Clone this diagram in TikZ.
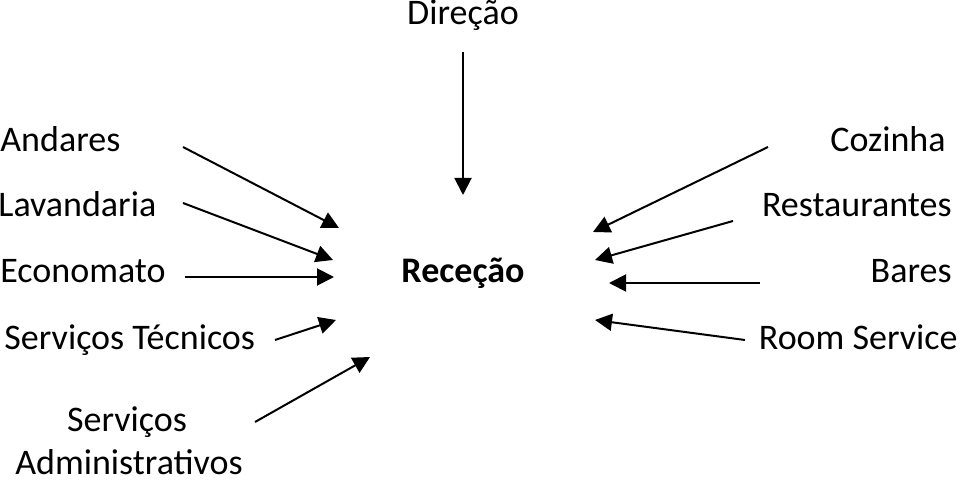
\documentclass[tikz,border=0pt]{standalone}
\usepackage{fontspec}
\setmainfont{Carlito}
\usetikzlibrary{arrows.meta}
\begin{document}
\begin{tikzpicture}[x=0.5pt,y=-0.5pt,
  lbl/.style={inner sep=0pt,font=\fontsize{18}{22}\selectfont},
  arr/.style={line width=1pt,-{Triangle[length=8.5pt,width=8.5pt]}}]
\useasboundingbox (0,0) rectangle (968,490);
% labels
\node[lbl,anchor=base] (dir) at (463,25) {Direção};
\node[lbl,anchor=base,font=\fontsize{18}{22}\selectfont\bfseries] (rec) at (463,283) {Receção};
\node[lbl,anchor=base west] (and) at (0,152) {Andares};
\node[lbl,anchor=base west] (lav) at (-2,217) {Lavandaria};
\node[lbl,anchor=base west] (eco) at (0,283) {Economato};
\node[lbl,anchor=base west] (tec) at (4,350) {Serviços Técnicos};
\node[lbl,anchor=base] (adm1) at (127,432) {Serviços};
\node[lbl,anchor=base] (adm2) at (129,475) {Administrativos};
\node[lbl,anchor=base east] (coz) at (946,152) {Cozinha};
\node[lbl,anchor=base east] (res) at (952,217) {Restaurantes};
\node[lbl,anchor=base east] (bar) at (952,283) {Bares};
\node[lbl,anchor=base east] (room) at (958,350) {Room Service};
% arrow points
\coordinate (dirS) at (463,52);   \coordinate (dirE) at (463,195);
\coordinate (andS) at (183,147);  \coordinate (andE) at (339,228);
\coordinate (lavS) at (183,203);  \coordinate (lavE) at (333,260);
\coordinate (ecoS) at (185,277);  \coordinate (ecoE) at (334,277);
\coordinate (tecS) at (275,340);  \coordinate (tecE) at (336,320);
\coordinate (admS) at (255,422);  \coordinate (admE) at (370,357);
\coordinate (cozS) at (768,147);  \coordinate (cozE) at (593,232);
\coordinate (resS) at (733,221);  \coordinate (resE) at (595,260);
\coordinate (barS) at (760,283);  \coordinate (barE) at (609,283);
\coordinate (roomS) at (745,340); \coordinate (roomE) at (595,320);
% arrows
\foreach \a in {dir,and,lav,eco,tec,adm,coz,res,bar,room}
  \draw[arr] (\a S) -- (\a E);
\end{tikzpicture}
\end{document}
